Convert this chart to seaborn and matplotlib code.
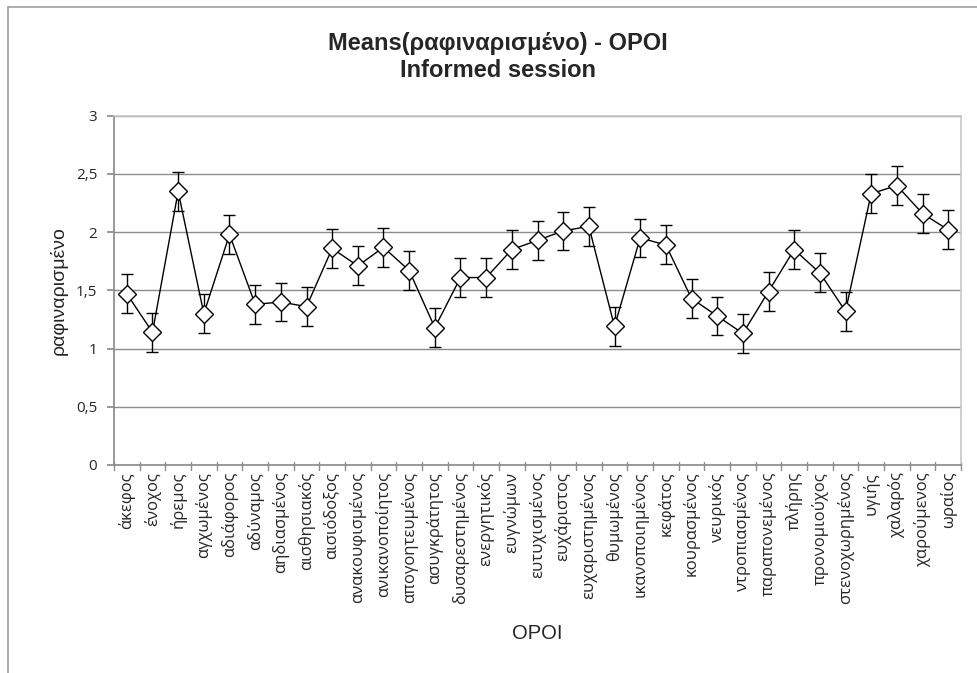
import matplotlib
matplotlib.use("Agg")
import matplotlib.pyplot as plt
import seaborn as sns
import pandas as pd
from matplotlib.lines import Line2D

terms = [
    "άκεφος", "ένοχος", "ήρεμος", "αγχωμένος", "αδιάφορος", "αδύναμος",
    "αηδιασμένος", "αισθησιακός", "αισιόδοξος", "ανακουφισμένος",
    "ανικανοποίητος", "απογοητευμένος", "ασυγκράτητος", "δυσαρεστημένος",
    "ενεργητικός", "ευγνώμων", "ευτυχισμένος", "ευχάριστος",
    "ευχαριστημένος", "θυμωμένος", "ικανοποιημένος", "κεφάτος",
    "κουρασμένος", "νευρικός", "ντροπιασμένος", "παραπονεμένος", "πλήρης",
    "προνομιούχος", "στενοχωρημένος", "υγιής", "χαλαρός", "χαρούμενος",
    "ωραίος",
]
means = [
    1.47, 1.14, 2.35, 1.30, 1.98, 1.38, 1.40, 1.36, 1.86, 1.71, 1.87,
    1.67, 1.18, 1.61, 1.61, 1.85, 1.93, 2.01, 2.05, 1.19, 1.95, 1.89,
    1.43, 1.28, 1.13, 1.49, 1.85, 1.65, 1.32, 2.33, 2.40, 2.16, 2.02,
]
errors = [0.167] * len(terms)

y_ticks = [0, 0.5, 1, 1.5, 2, 2.5, 3]
y_tick_labels = ["0", "0,5", "1", "1,5", "2", "2,5", "3"]

sns.set_theme(style="white")
plt.rcParams["font.family"] = ["Liberation Sans", "DejaVu Sans"]

df = pd.DataFrame({"pos": range(len(terms)), "term": terms, "mean": means})

fig = plt.figure(figsize=(9.78, 6.73), dpi=100)
ax = fig.add_axes([114 / 978, 1 - 465 / 673, (961 - 114) / 978, (465 - 115.7) / 673])

grid_c = "#8c8c8c"
for yv in y_ticks[1:]:
    ax.axhline(yv, color=grid_c, lw=1.0, zorder=0)

ax.errorbar(df["pos"], df["mean"], yerr=errors, fmt="none", ecolor="black",
            elinewidth=1.0, capsize=4.3, capthick=1.0, zorder=2)
sns.lineplot(data=df, x="pos", y="mean", ax=ax, color="black", lw=1.0,
             marker="D", markersize=9, markerfacecolor="white",
             markeredgecolor="black", markeredgewidth=1.0, zorder=3)

ax.set_xlim(-0.5, len(terms) - 0.5)
ax.set_ylim(0, 3)
ax.set_yticks(y_ticks)
ax.set_yticklabels(y_tick_labels, fontsize=11,
                   family=["Open Sans", "DejaVu Sans"])
ax.set_xticks(range(len(terms)))
ax.set_xticklabels(terms, rotation=90, fontsize=12,
                   family=["Open Sans", "DejaVu Sans"])
ax.tick_params(axis="x", length=0, pad=5)
ax.tick_params(axis="y", length=5, direction="out", color=grid_c, left=True, pad=7)

# category separators on the x axis
for b in range(len(terms) + 1):
    ax.plot([b - 0.5, b - 0.5], [-0.04, 0.03], color=grid_c, lw=1.0,
            clip_on=False, zorder=1)

for side in ["top", "right"]:
    ax.spines[side].set_color("#c8c8c8")
    ax.spines[side].set_linewidth(1.2)
ax.spines["left"].set_color(grid_c)
ax.spines["bottom"].set_color(grid_c)

ax.set_xlabel("ΟΡΟΙ", fontsize=14.5, labelpad=14)
ax.set_ylabel("ραφιναρισμένο", fontsize=14, labelpad=6)

fig.text(0.509, 0.915, "Means(ραφιναρισμένο) - ΟΡΟΙ\nInformed session",
         ha="center", va="center", fontsize=17, fontweight="bold",
         linespacing=1.22)

# outer chart frame
fig.add_artist(Line2D([8 / 978, 8 / 978], [0, 1 - 7 / 673], color="#a0a0a0",
                      lw=1.2, transform=fig.transFigure))
fig.add_artist(Line2D([8 / 978, 1], [1 - 7 / 673, 1 - 7 / 673], color="#a0a0a0",
                      lw=1.2, transform=fig.transFigure))

fig.savefig("out.png", dpi=100)
